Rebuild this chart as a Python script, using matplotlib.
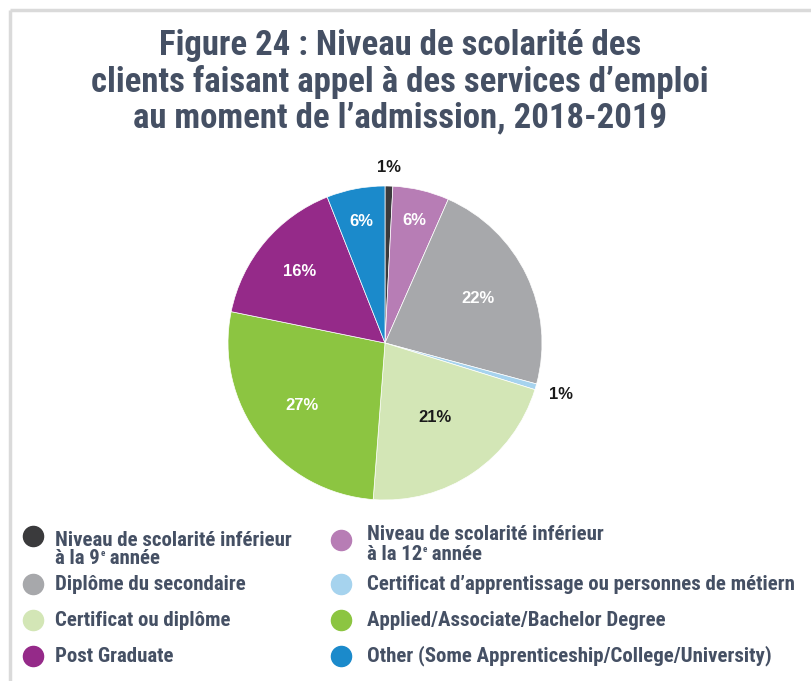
import matplotlib
matplotlib.use("Agg")
import matplotlib.pyplot as plt
import numpy as np

police = ['Roboto Condensed', 'Archivo Narrow', 'Liberation Sans Narrow', 'Roboto', 'DejaVu Sans']
plt.rcParams['font.family'] = police

# donnees (pourcentages)
categories = [
    ["Niveau de scolarité inférieur", ("à la 9", "e", " année")],
    ["Niveau de scolarité inférieur", ("à la 12", "e", " année")],
    ["Diplôme du secondaire"],
    ["Certificat d’apprentissage ou personnes de métiern"],
    ["Certificat ou diplôme"],
    ["Applied/Associate/Bachelor Degree"],
    ["Post Graduate"],
    ["Other (Some Apprenticeship/College/University)"],
]
valeurs = [0.8, 5.8, 22.6, 0.6, 21.4, 27.0, 15.8, 6.0]
etiquettes = ["1%", "6%", "22%", "1%", "21%", "27%", "16%", "6%"]
couleurs = ["#3a3a3c", "#b77db5", "#a7a8ab", "#a6d3ee", "#d3e6b6",
            "#8cc541", "#952a89", "#1b8acb"]
coul_texte = ["#1a1a1a", "white", "white", "#1a1a1a", "#1a1a1a",
              "white", "white", "white"]
rayon_lab = [1.12, 0.80, 0.66, 1.17, 0.57, 0.66, 0.71, 0.79]

# ordre de la legende (deux colonnes)
ordre_legende = [0, 2, 4, 6, 1, 3, 5, 7]

titre_col = "#455064"
W, H = 811, 681

fig = plt.figure(figsize=(W / 100, H / 100), dpi=100)
fig.patch.set_facecolor("white")

# calque en pixels pour le cadre et la legende
fond = fig.add_axes([0, 0, 1, 1])
fond.set_xlim(0, W)
fond.set_ylim(H, 0)
fond.axis('off')
fond.plot([10, W], [10, 10], color="#dadada", lw=2.5, solid_capstyle='butt')
fond.plot([10, 10], [10, H], color="#dadada", lw=2.5, solid_capstyle='butt')

fond.text(400, 82, "Figure 24 : Niveau de scolarité des\n"
          "clients faisant appel à des services d’emploi\n"
          "au moment de l’admission, 2018-2019",
          ha='center', va='center', fontsize=25, fontweight='bold',
          color=titre_col, linespacing=1.1)

fig.canvas.draw()
rend = fig.canvas.get_renderer()

# legende
pos_col = [(33, 55), (341, 367)]
pos_y = [[540, 584, 620, 656], [535, 584, 620, 656]]
pos_mk = [[536, 584, 620, 656], [540, 584, 620, 656]]
style = dict(fontsize=15, fontweight='bold', color=titre_col, va='center', ha='left')
for k, i in enumerate(ordre_legende):
    c = k // 4
    r = k % 4
    xm, xt = pos_col[c]
    y = pos_y[c][r]
    fond.scatter([xm], [pos_mk[c][r]], s=210, color=couleurs[i], zorder=3)
    fond.text(xt, y, categories[i][0], **style)
    if len(categories[i]) > 1:
        a, e, b = categories[i][1]
        y2 = y + 19
        t = fond.text(xt, y2, a, **style)
        bb = t.get_window_extent(rend)
        x1 = xt + bb.width * W / fig.bbox.width
        t2 = fond.text(x1 + 0.5, y2 - 5, e, fontsize=6.5, fontweight='bold',
                       color=titre_col, va='center', ha='left')
        bb2 = t2.get_window_extent(rend)
        x2 = x1 + 0.5 + bb2.width * W / fig.bbox.width
        fond.text(x2, y2, b, **style)

# camembert
cx, cy, R = 385, 343, 157
ax = fig.add_axes([(cx - R) / W, (H - cy - R) / H, 2 * R / W, 2 * R / H])
wedges, _ = ax.pie(valeurs, colors=couleurs, startangle=90, counterclock=False,
                   wedgeprops=dict(edgecolor='white', linewidth=0.5))
ax.set_xlim(-1, 1)
ax.set_ylim(-1, 1)
ax.axis('off')

for w, lab, col, rr in zip(wedges, etiquettes, coul_texte, rayon_lab):
    ang = np.deg2rad((w.theta1 + w.theta2) / 2)
    ax.text(rr * np.cos(ang), rr * np.sin(ang), lab, ha='center', va='center',
            fontsize=12, fontweight='bold', color=col,
            family=['Liberation Sans', 'DejaVu Sans'])

fig.savefig("out.png", dpi=100)
